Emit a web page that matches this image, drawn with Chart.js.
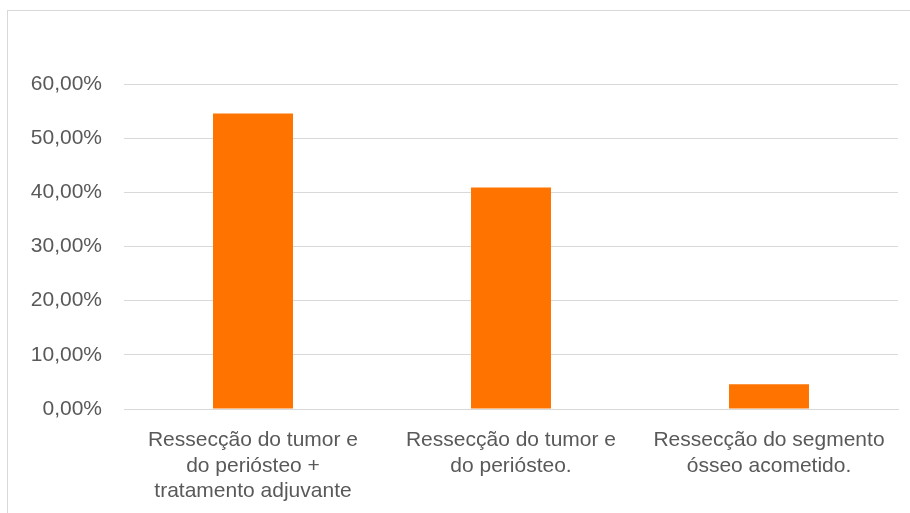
<!DOCTYPE html>
<html>
<head>
<meta charset="utf-8">
<script src="https://cdn.jsdelivr.net/npm/chart.js@4/dist/chart.umd.min.js"></script>
<style>
  html, body { margin: 0; padding: 0; background: #fff; }
  body { width: 910px; height: 513px; overflow: hidden; position: relative; }
  .frame {
    position: absolute; left: 7px; top: 10px; width: 920px; height: 520px;
    border: 1px solid #d9d9d9; box-sizing: border-box;
  }
  #chart { position: absolute; left: 0; top: 0; }
</style>
</head>
<body>
<div class="frame"></div>
<canvas id="chart" width="910" height="513"></canvas>
<script>
// Tipos de tratamento (rótulos quebrados em linhas)
const categories = [
  ['Ressecção do tumor e', 'do periósteo +', 'tratamento adjuvante'],
  ['Ressecção do tumor e', 'do periósteo.'],
  ['Ressecção do segmento', 'ósseo acometido.']
];
// Percentual de casos
const percentages = [54.55, 40.91, 4.55];
const yTicks = [0, 10, 20, 30, 40, 50, 60];

const textColor = '#595959';
const gridColor = '#d9d9d9';
const barColor = '#ff7400';

const fmt = v => v.toFixed(2).replace('.', ',') + '%';

new Chart(document.getElementById('chart').getContext('2d'), {
  type: 'bar',
  data: {
    labels: categories,
    datasets: [{
      data: percentages,
      backgroundColor: barColor,
      borderWidth: 0,
      barPercentage: 0.62,
      categoryPercentage: 0.5
    }]
  },
  options: {
    responsive: false,
    animation: false,
    layout: { padding: { top: 84, right: 12, left: 0, bottom: 0 } },
    plugins: { legend: { display: false }, tooltip: { enabled: false } },
    scales: {
      x: {
        grid: { display: false, drawTicks: false },
        border: { color: gridColor, width: 1 },
        ticks: {
          color: textColor,
          font: { family: 'Arial, "Liberation Sans", sans-serif', size: 21 },
          lineHeight: 1.26,
          padding: 19,
          maxRotation: 0,
          autoSkip: false
        },
        afterFit: s => { s.height = 104; }
      },
      y: {
        min: 0,
        max: 60,
        afterBuildTicks: s => { s.ticks = yTicks.map(v => ({ value: v })); },
        grid: { color: gridColor, drawTicks: false },
        border: { display: false },
        ticks: {
          color: textColor,
          font: { family: 'Arial, "Liberation Sans", sans-serif', size: 21 },
          padding: 22,
          callback: v => fmt(v)
        },
        afterFit: s => { s.width = 124; }
      }
    }
  }
});
</script>
</body>
</html>
